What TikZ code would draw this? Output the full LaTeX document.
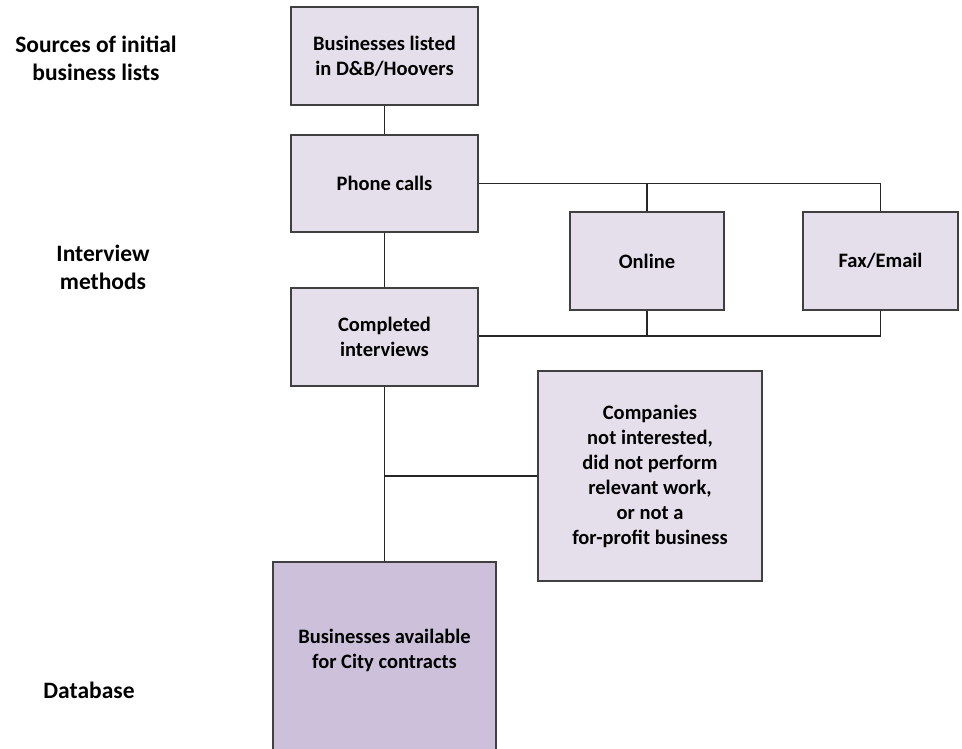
\documentclass[tikz,border=0pt]{standalone}
\usepackage{fontspec}
\setmainfont{Carlito}
\begin{document}
\begin{tikzpicture}[x=1pt,y=-1pt,
  box/.style={draw=black!75,line width=1.5pt,fill=boxfill,align=center,inner sep=0pt,font=\bfseries\fontsize{20.5}{25}\selectfont},
  lbl/.style={align=center,font=\bfseries\fontsize{23.5}{28}\selectfont},
  conn/.style={draw=black!85,line width=1.8pt}]
\definecolor{boxfill}{HTML}{E5DFEC}
\definecolor{dbfill}{HTML}{CCC0DA}
\useasboundingbox (0,0) rectangle (962,749);
\node[box,minimum width=187pt,minimum height=98pt] (dnb) at (384.5,56) {Businesses listed\\in D\&B/Hoovers};
\node[box,minimum width=187pt,minimum height=97pt] (phone) at (384.5,183.5) {Phone calls};
\node[box,minimum width=187pt,minimum height=98pt] (done) at (384.5,337) {Completed\\interviews};
\node[box,minimum width=154pt,minimum height=98pt] (online) at (647,261) {Online};
\node[box,minimum width=155pt,minimum height=98pt] (fax) at (880.5,261) {Fax/Email};
\node[box,minimum width=224pt,minimum height=210pt] (comp) at (650,476) {Companies\\not interested,\\did not perform\\relevant work,\\or not a\\for-profit business};
\node[box,fill=dbfill,minimum width=223pt,minimum height=190pt] (db) at (384.5,657) {\raisebox{1pt}[0pt][0pt]{\begin{tabular}{@{}c@{}}Businesses available\\for City contracts\end{tabular}}};
\node[lbl] (l1) at (96,58) {Sources of initial\\business lists};
\node[lbl] (l2) at (103,267) {Interview\\methods};
\node[lbl] (l3) at (89,690) {Database};
\coordinate (ptop) at (880.5,183.5);
\coordinate (pbot) at (880.5,336);
\coordinate (jc) at (384.5,476);
\path[conn] (dnb) -- (phone);
\path[conn] (phone) -- (done);
\path[conn] (phone.east) -- (ptop) -- (fax.north);
\path[conn] (online.north) -- (online.north |- ptop);
\path[conn] (done.east |- pbot) -- (pbot) -- (fax.south);
\path[conn] (online.south) -- (online.south |- pbot);
\path[conn] (done) -- (db);
\path[conn] (jc) -- (comp.west);
\end{tikzpicture}
\end{document}
